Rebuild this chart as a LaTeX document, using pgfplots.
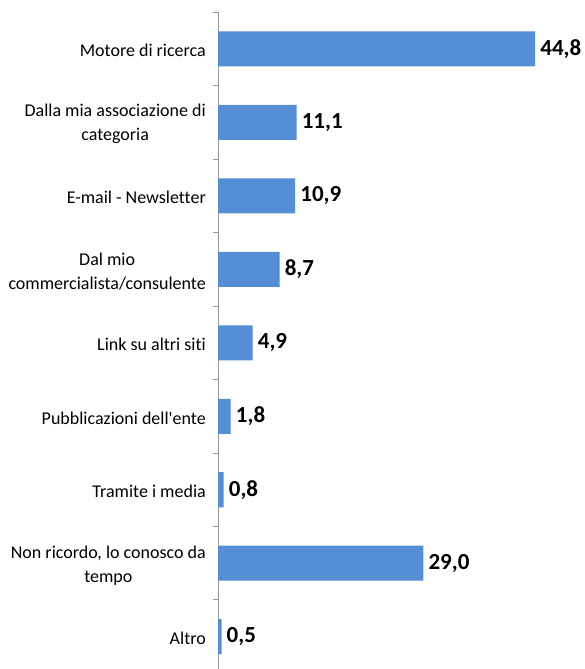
\documentclass[border=0pt]{standalone}
\usepackage{pgfplots}
\pgfplotsset{compat=1.18}
\usepackage{fontspec}
\setmainfont{Carlito}[Ligatures={TeX,CommonOff}]
\definecolor{barblue}{RGB}{85,142,213}
\begin{document}
\begin{tikzpicture}
\path[use as bounding box] (0,0) rectangle (584pt,669pt);
\begin{axis}[
  at={(218pt,-4.5pt)}, anchor=south west,
  scale only axis,
  width=366pt, height=661.5pt,
  xbar, bar width=35pt,
  xmin=0, xmax=51.7,
  ymin=-0.5, ymax=8.5,
  axis x line=none,
  axis y line*=left,
  y axis line style={gray!80, line width=1pt},
  ytick={0,...,8},
  yticklabels={Altro, {Non ricordo, lo conosco da\\tempo}, Tramite i media, {Pubblicazioni dell\textquotesingle ente}, Link su altri siti, {Dal mio\\commercialista/consulente}, E-mail - Newsletter, {Dalla mia associazione di\\categoria}, Motore di ricerca},
  yticklabel style={align=center, font=\fontsize{18}{24}\selectfont, inner sep=0pt, xshift=-12pt, yshift=-2pt},
  major tick length=0pt,
  minor ytick={-0.5,0.5,...,8.5},
  minor tick length=5pt,
  tick align=outside,
  minor tick style={gray!80, line width=1pt},
  nodes near coords,
  nodes near coords style={font=\bfseries\fontsize{23}{23}\selectfont, black, inner sep=0pt, xshift=5pt, /pgf/number format/.cd, assume math mode=true, use comma, fixed, fixed zerofill, precision=1},
  clip=false,
]
\addplot[fill=barblue, draw=none] coordinates {
  (0.5,0) (29.0,1) (0.8,2) (1.8,3) (4.9,4) (8.7,5) (10.9,6) (11.1,7) (44.8,8)
};
\end{axis}
\end{tikzpicture}
\end{document}
